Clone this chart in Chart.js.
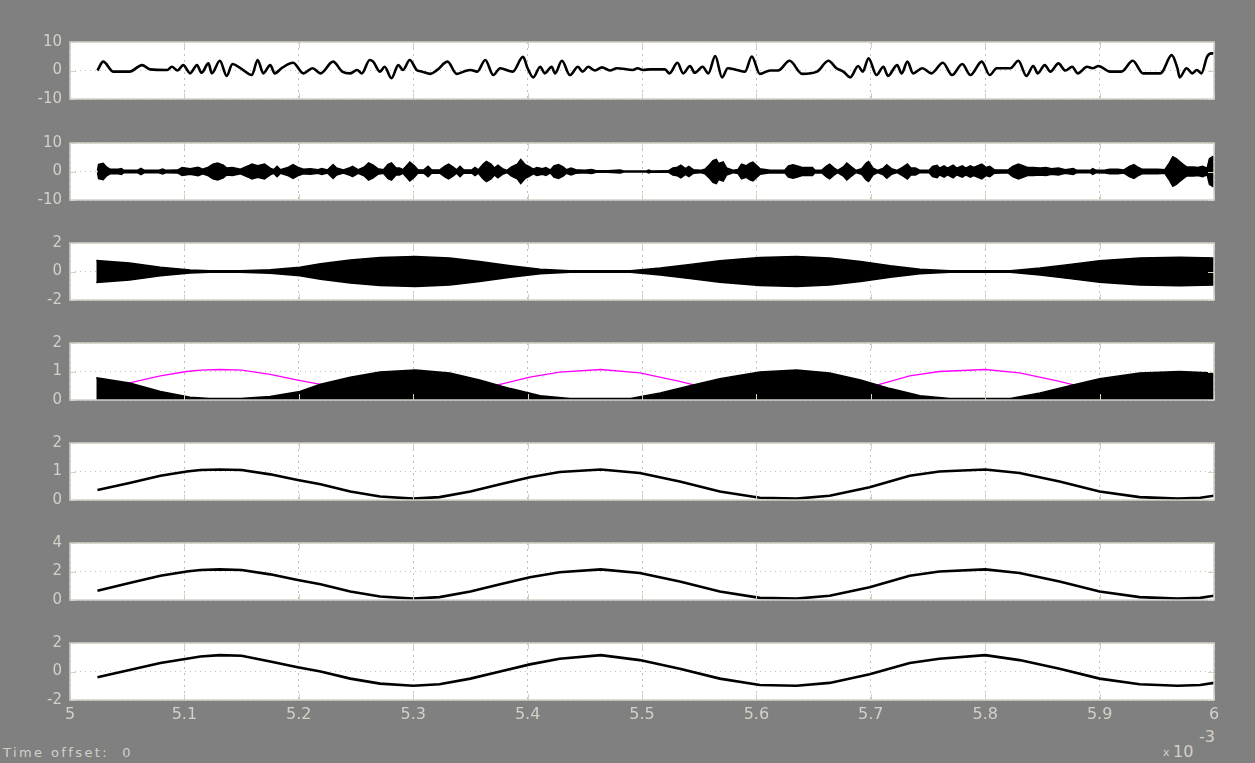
<!DOCTYPE html>
<html>
<head>
<meta charset="utf-8">
<script src="https://cdn.jsdelivr.net/npm/chart.js@4.4.1/dist/chart.umd.min.js"></script>
<style>
  html, body { margin: 0; padding: 0; background: #808080; width: 1255px; height: 763px; overflow: hidden; }
  canvas { position: absolute; left: 0; }
  .lbl { position: absolute; color: #d4d0c8; font-family: "DejaVu Sans", sans-serif; white-space: pre; line-height: 1; }
</style>
</head>
<body>
<div class="lbl" style="left:3px; top:746px; font-size:13px; letter-spacing:2.4px;">Time offset:  0</div>
<div class="lbl" style="left:1163px; top:747px; font-size:11px;">x</div>
<div class="lbl" style="left:1173px; top:744px; font-size:16px;">10</div>
<div class="lbl" style="left:1199px; top:729px; font-size:16px;">-3</div>
<script>
// Time axis labels (ms, shown with the x10^-3 multiplier)
const xTickLabels = ['5', '5.1', '5.2', '5.3', '5.4', '5.5', '5.6', '5.7', '5.8', '5.9', '6'];

// Channel 1: speech-like input signal (turning points)
const sigTimes = [
  5.024,5.029,5.038,5.052,5.063,5.070,5.085,5.089,5.094,5.099,
  5.105,5.111,5.115,5.121,5.124,5.131,5.137,5.142,5.149,5.159,
  5.164,5.169,5.175,5.179,5.185,5.195,5.204,5.212,5.219,5.230,
  5.238,5.245,5.251,5.255,5.262,5.265,5.271,5.275,5.281,5.287,
  5.291,5.297,5.303,5.308,5.315,5.321,5.330,5.338,5.344,5.350,
  5.356,5.363,5.370,5.376,5.387,5.396,5.400,5.405,5.411,5.415,
  5.421,5.424,5.430,5.437,5.444,5.448,5.453,5.459,5.465,5.472,
  5.478,5.492,5.496,5.501,5.507,5.520,5.524,5.531,5.536,5.542,
  5.546,5.553,5.558,5.564,5.570,5.575,5.583,5.590,5.596,5.603,
  5.612,5.619,5.629,5.640,5.653,5.663,5.670,5.676,5.682,5.689,
  5.693,5.698,5.705,5.711,5.715,5.723,5.727,5.732,5.737,5.745,
  5.753,5.763,5.771,5.780,5.787,5.797,5.804,5.810,5.822,5.829,
  5.836,5.842,5.846,5.852,5.857,5.864,5.870,5.876,5.881,5.889,
  5.894,5.899,5.909,5.919,5.929,5.938,5.953,5.955,5.963,5.968,
  5.970,5.976,5.981,5.985,5.989,5.994,5.998,6.000
];
const sigValues = [
  0,3.1,-0.4,-0.4,1.9,0.4,0.2,1.3,0,1.9,
  -1,1.9,-0.8,2.5,-1,3.4,-1.9,2.3,0.8,-1.6,
  3.7,-1,1.9,-1,0.8,2.7,-1,0.8,-1,3.1,
  -0.4,-1,0.2,-1,3.7,3.1,-0.4,1.3,-2.7,1.9,
  0.2,3.7,0.2,-0.4,-1.2,0.2,3.1,-1.2,-0.4,0.2,
  -0.4,3.7,-1.6,0.8,-0.4,4.8,0.8,-2.4,1.3,-1,
  1.3,-1,3.4,-1.6,1.3,-0.4,1.3,0,1.1,0,
  0.8,0.2,0.8,0.2,0.4,0.4,-1,2.7,-1,1.6,
  -0.8,1.3,-1,5.1,-2.4,0.8,0.2,-0.4,4.9,-1.2,
  0,0,3.4,-1.2,-0.4,3.4,0.8,-0.4,-2.4,1.6,
  -0.4,4.3,-1.6,1.3,-1.9,1.9,-1,3.1,-1,0.8,
  -1,2.7,-1.6,2.3,-1.6,3.1,-1.6,0.8,0.8,3.4,
  -1.9,1.6,-1,1.9,-0.4,2.5,0,1.3,-1,1.3,
  0.8,1.6,-0.4,-0.4,3.4,-1,-1,-0.4,5.4,0.8,
  -2.4,0.8,-1,0.2,-1,4.9,6.0,6.0
];

// Channel 2: envelope of the high-pass burst signal
const burstTimes = [
  5.024,5.025,5.029,5.032,5.035,5.042,5.045,5.047,5.059,5.062,
  5.065,5.077,5.081,5.084,5.094,5.098,5.105,5.112,5.116,5.121,
  5.125,5.129,5.134,5.137,5.142,5.149,5.156,5.159,5.164,5.170,
  5.175,5.178,5.181,5.184,5.191,5.195,5.199,5.204,5.210,5.217,
  5.220,5.225,5.230,5.233,5.239,5.244,5.247,5.252,5.257,5.261,
  5.265,5.269,5.274,5.278,5.281,5.285,5.288,5.291,5.295,5.297,
  5.301,5.304,5.309,5.313,5.316,5.323,5.328,5.331,5.335,5.338,
  5.341,5.344,5.351,5.354,5.357,5.361,5.364,5.368,5.371,5.374,
  5.378,5.382,5.386,5.391,5.394,5.398,5.401,5.405,5.408,5.413,
  5.416,5.420,5.423,5.427,5.431,5.434,5.438,5.442,5.450,5.456,
  5.460,5.470,5.481,5.484,5.504,5.506,5.508,5.523,5.527,5.531,
  5.534,5.538,5.541,5.545,5.551,5.555,5.559,5.562,5.565,5.567,
  5.571,5.574,5.580,5.584,5.587,5.591,5.594,5.597,5.600,5.603,
  5.612,5.625,5.628,5.632,5.635,5.640,5.649,5.651,5.657,5.661,
  5.664,5.668,5.671,5.676,5.679,5.683,5.687,5.692,5.696,5.698,
  5.702,5.706,5.711,5.714,5.718,5.723,5.728,5.732,5.735,5.739,
  5.743,5.751,5.754,5.758,5.760,5.764,5.767,5.772,5.775,5.780,
  5.783,5.787,5.790,5.797,5.801,5.804,5.808,5.815,5.820,5.824,
  5.829,5.833,5.837,5.842,5.848,5.853,5.858,5.864,5.870,5.877,
  5.880,5.892,5.894,5.897,5.905,5.909,5.916,5.921,5.926,5.930,
  5.933,5.937,5.944,5.951,5.957,5.961,5.964,5.967,5.969,5.973,
  5.976,5.982,5.986,5.990,5.994,5.996,5.999,6.000
];
const burstAmp = [
  0.3,2.5,2.9,1.5,0.8,0.8,1.0,0.4,0.4,1.1,
  0.4,0.4,0.9,0.4,0.5,1.4,1.0,1.5,0.8,1.5,
  2.6,3.0,2.2,1.2,1.4,0.8,2.0,2.6,2.0,2.6,
  1.2,0.6,1.8,0.6,1.5,2.4,1.5,0.8,1.0,0.6,
  1.0,0.5,2.4,1.2,0.5,1.2,1.8,0.6,1.5,3.0,
  2.2,1.0,0.6,2.5,3.0,1.2,1.2,0.6,2.4,3.3,
  2.0,0.6,0.5,1.8,0.6,0.5,2.0,2.6,1.5,0.6,
  1.8,0.6,0.5,1.4,0.6,2.5,3.5,2.6,1.2,2.2,
  1.0,0.4,1.6,2.6,4.2,2.4,1.8,0.8,1.4,1.0,
  1.4,0.5,2.0,2.4,1.6,0.6,1.2,0.6,0.4,0.7,
  0.3,0.25,0.5,0.2,0.2,0.5,0.2,0.25,1.2,1.5,
  2.2,1.0,1.8,0.6,0.4,0.8,2.4,3.8,4.2,2.8,
  3.4,1.2,0.4,0.7,2.6,2.0,2.8,3.3,2.2,1.0,
  0.4,0.5,2.0,2.4,2.0,1.4,1.4,0.5,0.4,1.8,
  2.6,1.2,0.4,1.6,3.0,1.6,0.4,1.0,3.0,3.5,
  1.2,0.4,1.2,2.4,1.0,0.4,1.5,2.6,1.2,1.2,
  0.4,0.4,1.8,2.2,1.2,2.0,1.2,2.2,1.2,2.0,
  1.2,2.0,1.4,2.6,1.4,1.8,0.6,0.5,0.5,1.8,
  2.6,2.0,1.4,1.4,1.2,1.4,1.0,1.2,0.6,1.0,
  0.4,0.4,1.0,0.4,0.5,0.8,0.8,0.5,1.8,2.4,
  1.6,0.8,0.8,0.8,0.6,3.0,5.2,4.5,3.8,2.5,
  1.6,1.6,1.4,1.8,1.2,4.5,5.3,5.3
];

// Channels 3 and 4: envelope of the modulated carrier
const envTimes = [
  5.023,5.052,5.079,5.105,5.122,5.149,5.175,5.201,5.219,5.245,
  5.271,5.302,5.332,5.358,5.385,5.411,5.437,5.490,5.516,5.542,
  5.568,5.603,5.635,5.664,5.691,5.717,5.743,5.769,5.822,5.848,
  5.874,5.900,5.935,5.970,6.000
];
const envAmp = [
  0.78,0.6,0.3,0.1,0.05,0.05,0.12,0.3,0.55,0.8,
  0.98,1.05,0.95,0.7,0.4,0.15,0.05,0.05,0.25,0.5,
  0.75,0.98,1.05,0.95,0.7,0.4,0.15,0.05,0.05,0.25,
  0.5,0.75,0.95,1.0,0.95
];

// Channels 4-7: recovered low-frequency tone
const toneTimes = [
  5.024,5.052,5.079,5.102,5.114,5.131,5.150,5.175,5.199,5.219,
  5.245,5.271,5.300,5.323,5.350,5.376,5.402,5.428,5.464,5.498,
  5.533,5.568,5.603,5.635,5.664,5.699,5.734,5.760,5.800,5.830,
  5.865,5.900,5.935,5.968,5.988,6.000
];
const toneDetected = [
  0.35,0.6,0.85,1.0,1.05,1.07,1.05,0.9,0.7,0.55,
  0.3,0.12,0.05,0.1,0.3,0.55,0.8,0.98,1.07,0.95,
  0.65,0.3,0.08,0.05,0.15,0.45,0.85,1.0,1.07,0.95,
  0.65,0.3,0.1,0.05,0.08,0.15
];
const toneAmplified = [
  0.65,1.2,1.7,2.0,2.1,2.15,2.1,1.8,1.4,1.1,
  0.6,0.25,0.1,0.2,0.6,1.1,1.6,1.95,2.15,1.9,
  1.3,0.6,0.15,0.1,0.3,0.9,1.7,2.0,2.15,1.9,
  1.3,0.6,0.2,0.1,0.15,0.3
];
const toneCentred = [
  -0.4,0.1,0.6,0.9,1.05,1.15,1.1,0.7,0.3,0.0,
  -0.5,-0.85,-1.0,-0.9,-0.5,0.0,0.5,0.9,1.15,0.8,
  0.2,-0.5,-0.95,-1.0,-0.8,-0.2,0.6,0.9,1.15,0.8,
  0.2,-0.5,-0.9,-1.0,-0.95,-0.8
];

// ---------- drawing ----------
const PAGE_W = 1255;
const PLOT_LEFT = 70, PLOT_RIGHT = 1214, PLOT_H = 57;
const PANEL_TOPS = [42, 143, 243, 343, 443, 543, 643];
const PAD = 24;
const FG = '#d4d0c8';
const GRID = '#c4c0b8';
const FONT = '"DejaVu Sans", sans-serif';

function xy(times, vals, sign) {
  const s = sign === undefined ? 1 : sign;
  return times.map((t, i) => ({ x: t, y: s * vals[i] }));
}
function trace(data, color, width, smooth) {
  const d = { data, borderColor: color, borderWidth: width, pointRadius: 0, tension: 0, fill: false };
  if (smooth) d.cubicInterpolationMode = 'monotone';
  return d;
}
function bandUpper(data) {
  return { data, borderColor: '#000', borderWidth: 1.5, pointRadius: 0, tension: 0, fill: false };
}
function bandLower(data) {
  return { data, borderColor: '#000', borderWidth: 1.5, pointRadius: 0, tension: 0,
           fill: '-1', backgroundColor: '#000' };
}

const panels = [
  { min: -10, max: 10, step: 10, datasets: [trace(xy(sigTimes, sigValues), '#000', 2.6, true)] },
  { min: -10, max: 10, step: 10, datasets: [bandUpper(xy(burstTimes, burstAmp)), bandLower(xy(burstTimes, burstAmp, -1))] },
  { min: -2, max: 2, step: 2, datasets: [bandUpper(xy(envTimes, envAmp)), bandLower(xy(envTimes, envAmp, -1))] },
  { min: 0, max: 2, step: 1, datasets: [
      { data: xy(envTimes, envAmp), borderColor: '#000', borderWidth: 1.5, pointRadius: 0, tension: 0,
        fill: 'origin', backgroundColor: '#000' },
      trace(xy(toneTimes, toneDetected), '#ff00ff', 1.3)
    ] },
  { min: 0, max: 2, step: 1, datasets: [trace(xy(toneTimes, toneDetected), '#000', 2.6)] },
  { min: 0, max: 4, step: 2, datasets: [trace(xy(toneTimes, toneAmplified), '#000', 2.6)] },
  { min: -2, max: 2, step: 2, datasets: [trace(xy(toneTimes, toneCentred), '#000', 2.6)], xLabels: true }
];

// White plot face, solid inward tick marks and a light frame
const scopeAxes = {
  id: 'scopeAxes',
  beforeDraw(chart) {
    const a = chart.chartArea, ctx = chart.ctx;
    ctx.save();
    ctx.fillStyle = '#ffffff';
    ctx.fillRect(a.left, a.top, a.right - a.left, a.bottom - a.top);
    ctx.restore();
  },
  afterDraw(chart) {
    const a = chart.chartArea, ctx = chart.ctx;
    const xs = chart.scales.x, ys = chart.scales.y;
    const L = 6;
    ctx.save();
    ctx.strokeStyle = FG;
    ctx.lineWidth = 1;
    ctx.beginPath();
    xs.ticks.forEach(t => {
      const px = Math.round(xs.getPixelForValue(t.value)) + 0.5;
      ctx.moveTo(px, a.top); ctx.lineTo(px, a.top + L);
      ctx.moveTo(px, a.bottom); ctx.lineTo(px, a.bottom - L);
    });
    ys.ticks.forEach(t => {
      const py = Math.round(ys.getPixelForValue(t.value)) + 0.5;
      ctx.moveTo(a.left, py); ctx.lineTo(a.left + L, py);
      ctx.moveTo(a.right, py); ctx.lineTo(a.right - L, py);
    });
    ctx.stroke();
    ctx.lineWidth = 1.5;
    ctx.strokeRect(a.left, a.top, a.right - a.left, a.bottom - a.top);
    ctx.restore();
  }
};

panels.forEach((p, i) => {
  const axisH = p.xLabels ? 36 : 0;
  const padBottom = p.xLabels ? 0 : PAD;
  const h = PAD + PLOT_H + axisH + padBottom;
  const cv = document.createElement('canvas');
  cv.width = PAGE_W; cv.height = h;
  cv.style.top = (PANEL_TOPS[i] - PAD) + 'px';
  cv.style.width = PAGE_W + 'px'; cv.style.height = h + 'px';
  document.body.appendChild(cv);

  new Chart(cv, {
    type: 'line',
    data: { datasets: p.datasets },
    plugins: [scopeAxes],
    options: {
      responsive: false,
      animation: false,
      events: [],
      layout: { padding: { left: 0, right: PAGE_W - PLOT_RIGHT, top: PAD, bottom: padBottom } },
      plugins: { legend: { display: false }, tooltip: { enabled: false } },
      scales: {
        x: {
          type: 'linear', min: 5, max: 6,
          ticks: {
            display: !!p.xLabels, stepSize: 0.1, padding: 5, color: FG, maxRotation: 0,
            font: { family: FONT, size: 16 },
            callback: (v, idx) => xTickLabels[idx]
          },
          grid: { color: GRID, lineWidth: 1, drawTicks: false },
          border: { display: false, dash: [2, 4] },
          afterFit: s => { s.height = axisH; }
        },
        y: {
          min: p.min, max: p.max,
          ticks: { stepSize: p.step, padding: 8, color: FG, font: { family: FONT, size: 15 } },
          grid: { color: GRID, lineWidth: 1, drawTicks: false },
          border: { display: false, dash: [1, 4] },
          afterFit: s => { s.width = PLOT_LEFT; }
        }
      }
    }
  });
});
</script>
</body>
</html>
